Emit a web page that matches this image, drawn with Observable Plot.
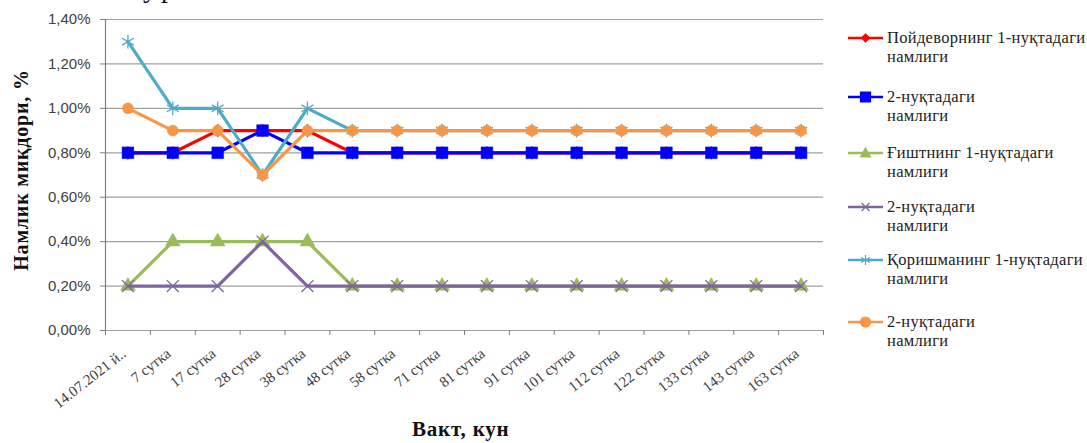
<!DOCTYPE html>
<html>
<head>
<meta charset="utf-8">
<script src="https://cdn.jsdelivr.net/npm/d3@7"></script>
<script src="https://cdn.jsdelivr.net/npm/@observablehq/plot@0.6"></script>
<style>
  body { margin: 0; background: #fff; }
  #wrap { position: relative; width: 1087px; height: 443px; overflow: hidden; background: #fff; }
  #wrap svg text { fill: #404040; }
  .frag { position: absolute; left: 143px; top: -26px; font: 28px "Liberation Serif", serif; color: #111; line-height: 1; letter-spacing: 4px; }
  .ytitle { position: absolute; left: 21px; top: 170px; transform: translate(-50%, -50%) rotate(-90deg);
            font: bold 20px "Liberation Serif", serif; letter-spacing: 0.8px; color: #111; white-space: nowrap; }
  .xtitle { position: absolute; left: 412px; top: 419px; font: bold 21px "Liberation Serif", serif; line-height: 1;
            letter-spacing: 0.8px; color: #111; white-space: nowrap; }
  .legend { position: absolute; left: 848px; top: 28px; font: 16.5px "Liberation Serif", serif; letter-spacing: 0.3px; color: #222; }
  .item { position: absolute; left: 0; width: 240px; }
  .item svg { position: absolute; left: 0; top: 2px; }
  .item div { position: absolute; left: 39px; top: 0; line-height: 19px; white-space: nowrap; }
</style>
</head>
<body>
<div id="wrap"></div>
<script>
// Sampling moments
const days = ["14.07.2021 й..", "7 сутка", "17 сутка", "28 сутка", "38 сутка", "48 сутка", "58 сутка", "71 сутка",
              "81 сутка", "91 сутка", "101 сутка", "112 сутка", "122 сутка", "133 сутка", "143 сутка", "163 сутка"];

// Moisture content, %
const foundationPt1 = [0.8, 0.8, 0.9, 0.9, 0.9, 0.8, 0.8, 0.8, 0.8, 0.8, 0.8, 0.8, 0.8, 0.8, 0.8, 0.8];
const foundationPt2 = [0.8, 0.8, 0.8, 0.9, 0.8, 0.8, 0.8, 0.8, 0.8, 0.8, 0.8, 0.8, 0.8, 0.8, 0.8, 0.8];
const brickPt1      = [0.2, 0.4, 0.4, 0.4, 0.4, 0.2, 0.2, 0.2, 0.2, 0.2, 0.2, 0.2, 0.2, 0.2, 0.2, 0.2];
const brickPt2      = [0.2, 0.2, 0.2, 0.4, 0.2, 0.2, 0.2, 0.2, 0.2, 0.2, 0.2, 0.2, 0.2, 0.2, 0.2, 0.2];
const mortarPt1     = [1.3, 1.0, 1.0, 0.7, 1.0, 0.9, 0.9, 0.9, 0.9, 0.9, 0.9, 0.9, 0.9, 0.9, 0.9, 0.9];
const mortarPt2     = [1.0, 0.9, 0.9, 0.7, 0.9, 0.9, 0.9, 0.9, 0.9, 0.9, 0.9, 0.9, 0.9, 0.9, 0.9, 0.9];

const yTicks = [0, 0.2, 0.4, 0.6, 0.8, 1.0, 1.2, 1.4];

const seriesNames = [
  ["Пойдеворнинг 1-нуқтадаги", "намлиги"],
  ["2-нуқтадаги", "намлиги"],
  ["Ғиштнинг 1-нуқтадаги", "намлиги"],
  ["2-нуқтадаги", "намлиги"],
  ["Қоришманинг 1-нуқтадаги", "намлиги"],
  ["2-нуқтадаги", "намлиги"]
];

const series = [
  {values: foundationPt1, color: "#ff0000", symbol: "diamond", r: 4,   filled: true},
  {values: foundationPt2, color: "#0000ff", symbol: "square",  r: 6.6, filled: true},
  {values: brickPt1,      color: "#9bbb59", symbol: "triangle", r: 5.5, filled: true},
  {values: brickPt2,      color: "#8064a2", symbol: "times",   r: 5.5, filled: false},
  {values: mortarPt1,     color: "#4bacc6", symbol: "asterisk", r: 6.5, filled: false},
  {values: mortarPt2,     color: "#f79646", symbol: "circle",  r: 5.5, filled: true}
];

const fmt = v => v.toFixed(2).replace(".", ",") + "%";

// Each day occupies one unit slot; points sit in the middle of their slot
const marks = [
  Plot.ruleY(yTicks, {stroke: "#a0a0a0", strokeWidth: 1.2}),
  Plot.ruleX([0], {stroke: "#808080", strokeWidth: 1.2}),
  Plot.axisY({ticks: yTicks, tickFormat: fmt, tickSize: 5, tickPadding: 10, fontSize: 15,
              fontFamily: "Liberation Sans, Arial, sans-serif", stroke: "#808080", label: null}),
  Plot.axisX({ticks: d3.range(days.length + 1), tickFormat: () => "", tickSize: 5, stroke: "#808080", label: null}),
  Plot.text(days, {x: (d, i) => i + 0.5, frameAnchor: "bottom", text: d => d, rotate: -38,
                   textAnchor: "end", dy: 25, dx: -1, fontSize: 15, fontFamily: "Liberation Serif, Times New Roman, serif",
                   fill: "#222"})
];

series.forEach(s => {
  const rows = s.values.map((v, i) => ({pos: i + 0.5, v}));
  marks.push(Plot.line(rows, {x: "pos", y: "v", stroke: s.color, strokeWidth: 3.2}));
  marks.push(Plot.dot(rows, {x: "pos", y: "v", symbol: s.symbol, r: s.r,
    fill: s.filled ? s.color : "none", stroke: s.color, strokeWidth: s.filled ? 0.5 : 1.3}));
});

const chart = Plot.plot({
  width: 1087,
  height: 443,
  marginLeft: 105,
  marginRight: 264,
  marginTop: 19,
  marginBottom: 113,
  x: {domain: [0, days.length], axis: null},
  y: {domain: [0, 1.4], axis: null},
  style: {background: "#fff", overflow: "visible"},
  marks
});

const wrap = document.getElementById("wrap");
wrap.appendChild(chart);

const frag = document.createElement("div");
frag.className = "frag";
frag.textContent = "ур";
wrap.appendChild(frag);

const yt = document.createElement("div");
yt.className = "ytitle";
yt.textContent = "Намлик миқдори, %";
wrap.appendChild(yt);

const xt = document.createElement("div");
xt.className = "xtitle";
xt.textContent = "Вакт, кун";
wrap.appendChild(xt);

// Legend: line swatch with its marker, two-line label
const legend = document.createElement("div");
legend.className = "legend";
const tops = [0, 59, 115, 169, 222, 284];
const symPaths = {
  diamond: "M0,-4L4,0L0,4L-4,0Z",
  square: "M-5,-5H5V5H-5Z",
  triangle: "M0,-5L5,4H-5Z",
  times: "M-4,-4L4,4M4,-4L-4,4",
  asterisk: "M0,-5V5M-4.5,-2.5L4.5,2.5M4.5,-2.5L-4.5,2.5",
  circle: "M5,0A5,5 0 1,1 -5,0A5,5 0 1,1 5,0Z"
};
series.forEach((s, k) => {
  const it = document.createElement("div");
  it.className = "item";
  it.style.top = tops[k] + "px";
  const p = symPaths[s.symbol];
  it.innerHTML =
    `<svg width="36" height="16" viewBox="0 -8 36 16"><line x1="0" y1="0" x2="35" y2="0" stroke="${s.color}" stroke-width="2.5"/>` +
    `<g transform="translate(17.5,0)"><path d="${p}" fill="${s.filled ? s.color : "none"}" stroke="${s.color}" stroke-width="1.2"/></g></svg>` +
    `<div>${seriesNames[k][0]}<br>${seriesNames[k][1]}</div>`;
  legend.appendChild(it);
});
wrap.appendChild(legend);
</script>
</body>
</html>
